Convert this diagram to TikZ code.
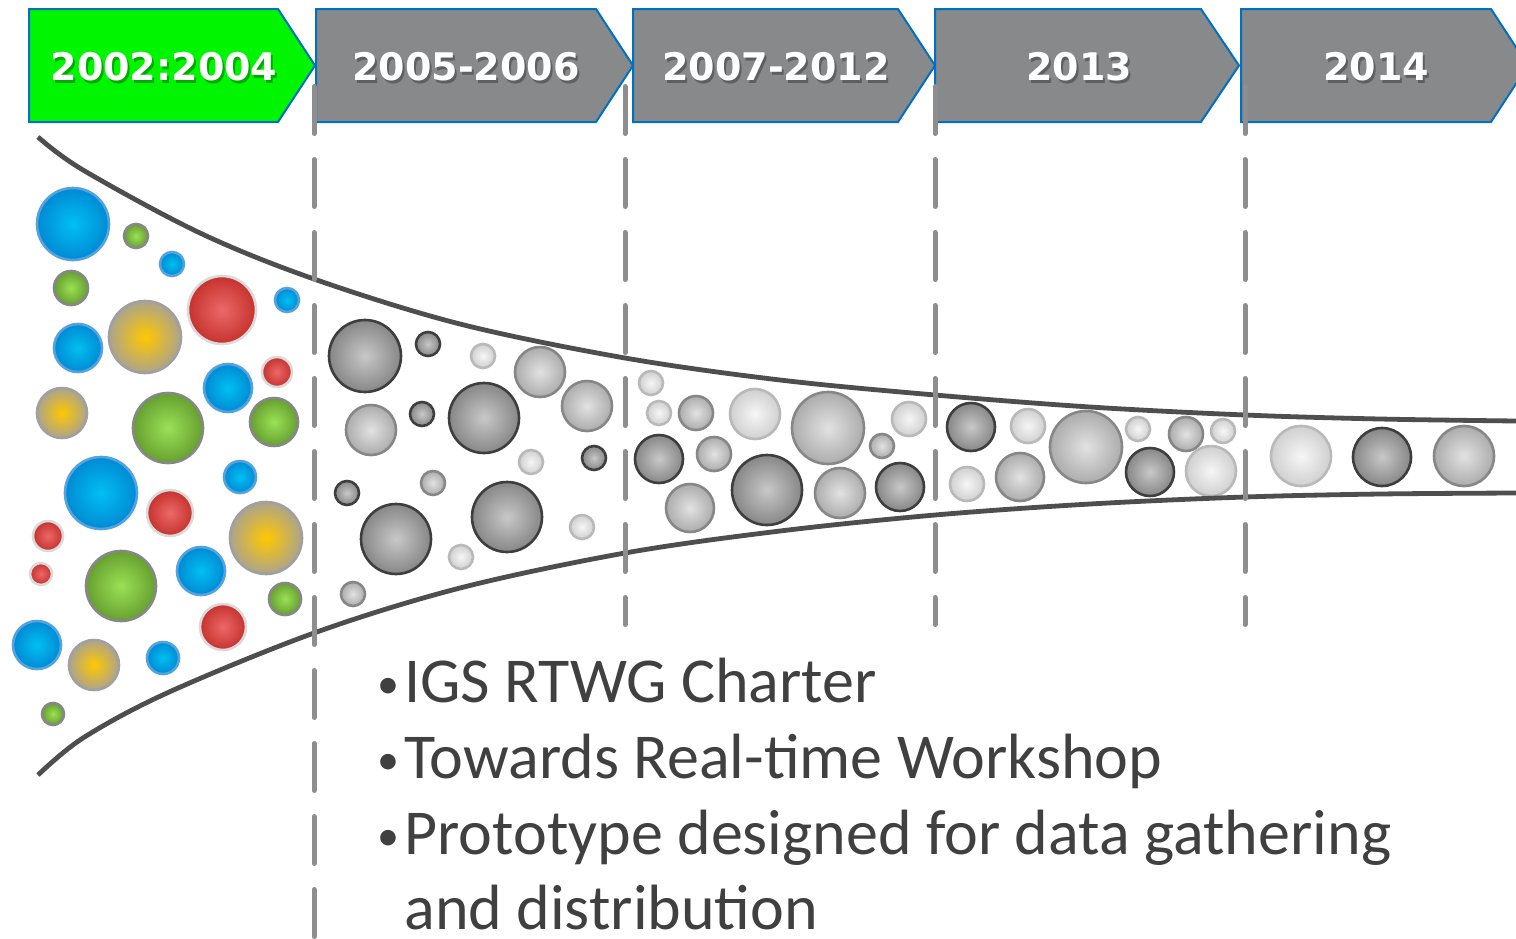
\documentclass[tikz,border=0pt]{standalone}
\usepackage{fontspec}
\newfontfamily\hdrfont{DejaVu Sans}
\newfontfamily\bodyfont{Carlito}
\definecolor{chevblue}{RGB}{0,112,192}
\definecolor{chevgray}{RGB}{136,137,139}
\definecolor{chevgreen}{RGB}{0,245,0}
\definecolor{funnelc}{RGB}{78,78,78}
\definecolor{dashgray}{RGB}{142,142,142}
\definecolor{txtc}{RGB}{64,64,64}
\definecolor{bluein}{RGB}{0,192,242}
\definecolor{blueout}{RGB}{0,138,212}
\definecolor{blueedge}{RGB}{85,162,225}
\definecolor{greenin}{RGB}{155,225,85}
\definecolor{greenout}{RGB}{102,160,48}
\definecolor{greenedge}{RGB}{135,135,135}
\definecolor{redin}{RGB}{235,105,105}
\definecolor{redout}{RGB}{198,50,45}
\definecolor{rededge}{RGB}{218,218,218}
\definecolor{yelin}{RGB}{255,200,0}
\definecolor{yelout}{RGB}{172,164,138}
\definecolor{yeledge}{RGB}{160,160,160}
\definecolor{dkin}{RGB}{200,200,200}
\definecolor{dkout}{RGB}{135,135,135}
\definecolor{dkedge}{RGB}{62,62,62}
\definecolor{mdin}{RGB}{226,226,226}
\definecolor{mdout}{RGB}{172,172,172}
\definecolor{mdedge}{RGB}{135,135,135}
\definecolor{ltin}{RGB}{246,246,246}
\definecolor{ltout}{RGB}{208,208,208}
\definecolor{ltedge}{RGB}{185,185,185}
\newcommand\bubble[4]{%
  \shade[inner color=#1in,outer color=#1out] (#2,#3) circle[radius=#4];
  \draw[draw=#1edge,line width=1.3pt] (#2,#3) circle[radius=#4];}
\tikzset{
  chev/.style={draw=chevblue,line width=1pt,line join=miter},
  hdr/.style={font=\hdrfont\bfseries\fontsize{19}{22}\selectfont,text=white,inner sep=0pt},
  hdrshadow/.style={font=\hdrfont\bfseries\fontsize{19}{22}\selectfont,text=black,opacity=0.3,inner sep=0pt},
  vdashline/.style={draw=dashgray,line width=2.5pt,line cap=round,dash pattern=on 23.5pt off 13pt},
  funnelline/.style={draw=funnelc,line width=2.4pt},
  bodytxt/.style={font=\bodyfont\fontsize{32}{38}\selectfont,text=txtc,inner sep=0pt,anchor=base west},
  bullet/.style={font=\bodyfont\fontsize{22}{26}\selectfont,text=txtc,inner sep=0pt,anchor=base}
}
\begin{document}
\begin{tikzpicture}[x=0.5pt,y=-0.5pt]
\useasboundingbox (0,0) rectangle (1516,938);
\fill[white] (0,0) rectangle (1516,938);
% chevrons
\draw[chev,fill=chevgreen] (29,9) -- (278,9) -- (315,65.5) -- (278,122) -- (29,122) -- cycle;
\draw[chev,fill=chevgray] (316,9) -- (596,9) -- (633,65.5) -- (596,122) -- (316,122) -- cycle;
\draw[chev,fill=chevgray] (633,9) -- (898,9) -- (935,65.5) -- (898,122) -- (633,122) -- cycle;
\draw[chev,fill=chevgray] (935,9) -- (1201,9) -- (1239,65.5) -- (1201,122) -- (935,122) -- cycle;
\draw[chev,fill=chevgray] (1241,9) -- (1491,9) -- (1528,65.5) -- (1491,122) -- (1241,122) -- cycle;
% header texts
\foreach \n/\x/\t in {a/164/2002:2004,b/466/2005-2006,c/776/2007-2012,d/1079/2013,e/1376/2014}{
  \node[hdrshadow] (s\n) at (\x+2,69.5) {\t};
  \node[hdr] (h\n) at (\x,66.5) {\t};
}
% coloured bubbles
\foreach \c/\x/\y/\r in {
  blue/73/224/36, green/136/236/12, blue/172/264/12, green/71/288/17,
  red/222/310/34, blue/287/300/12, blue/78/348/24, yel/145/337/36,
  red/277/372/15, blue/228/388/24, yel/62/413/25, green/168/428/35,
  green/274/422/24, blue/101/493/36, blue/240/477/16, red/170/513/23,
  red/48/536/15, yel/266/538/36, red/41/574/11, green/121/586/35,
  blue/201/571/24, green/285/599/16, red/223/627/23, blue/37/645/24,
  yel/94/665/25, blue/163/658/16, green/53/714/11}{
  \bubble{\c}{\x}{\y}{\r}
}
% grey bubbles
\foreach \c/\x/\y/\r in {
  dk/365/356/36, dk/428/344/12, lt/483/356/12, md/540/372/25,
  md/371/430/25, dk/422/414/12, dk/484/418/35, md/587/406/25,
  lt/531/462/12, dk/594/458/12, dk/347/493/12, md/433/483/12,
  dk/396/539/35, dk/507/517/35, lt/582/527/12, lt/461/557/12,
  md/353/594/12,
  lt/651/383/12, lt/659/413/12, md/696/413/17, lt/755/414/25,
  md/828/428/36, lt/909/419/17, dk/659/459/24, md/714/454/17,
  dk/767/490/35, md/882/446/12, md/840/493/25, dk/900/487/24,
  md/690/508/24,
  dk/971/427/24, lt/1028/426/17, md/1086/447/36, lt/1138/429/12,
  md/1186/434/17, lt/1223/431/12, lt/967/484/17, md/1020/477/24,
  dk/1150/472/24, lt/1211/471/25,
  lt/1301/456/30, dk/1382/457/29, md/1464/456/30}{
  \bubble{\c}{\x}{\y}{\r}
}
% funnel
\draw[funnelline] plot[smooth,tension=0.55] coordinates {(38,137) (83,170) (200,233) (314,279) (460,324) (625,358) (780,380) (935,395) (1090,407) (1245,415) (1380,419) (1516,421)};
\draw[funnelline] plot[smooth,tension=0.55] coordinates {(38,775) (83,738) (167,693) (314,633) (460,588) (625,553) (780,531) (935,515) (1090,504) (1245,497) (1380,494) (1516,493)};
% dashed separators
\draw[vdashline] (314,86.5) -- (314,937);
\draw[vdashline] (625,86.5) -- (625,624.5);
\draw[vdashline] (935,86.5) -- (935,624.5);
\draw[vdashline] (1245,86.5) -- (1245,624.5);
% bullet text
\node[bullet] (b1) at (388,698) {•};
\node[bodytxt] (l1) at (404,702) {IGS RTWG Charter};
\node[bullet] (b2) at (388,774) {•};
\node[bodytxt] (l2) at (404,778) {Towards Real-time Workshop};
\node[bullet] (b3) at (388,850) {•};
\node[bodytxt] (l3) at (404,854) {Prototype designed for data gathering};
\node[bodytxt] (l4) at (404,929) {and distribution};
\end{tikzpicture}
\end{document}
